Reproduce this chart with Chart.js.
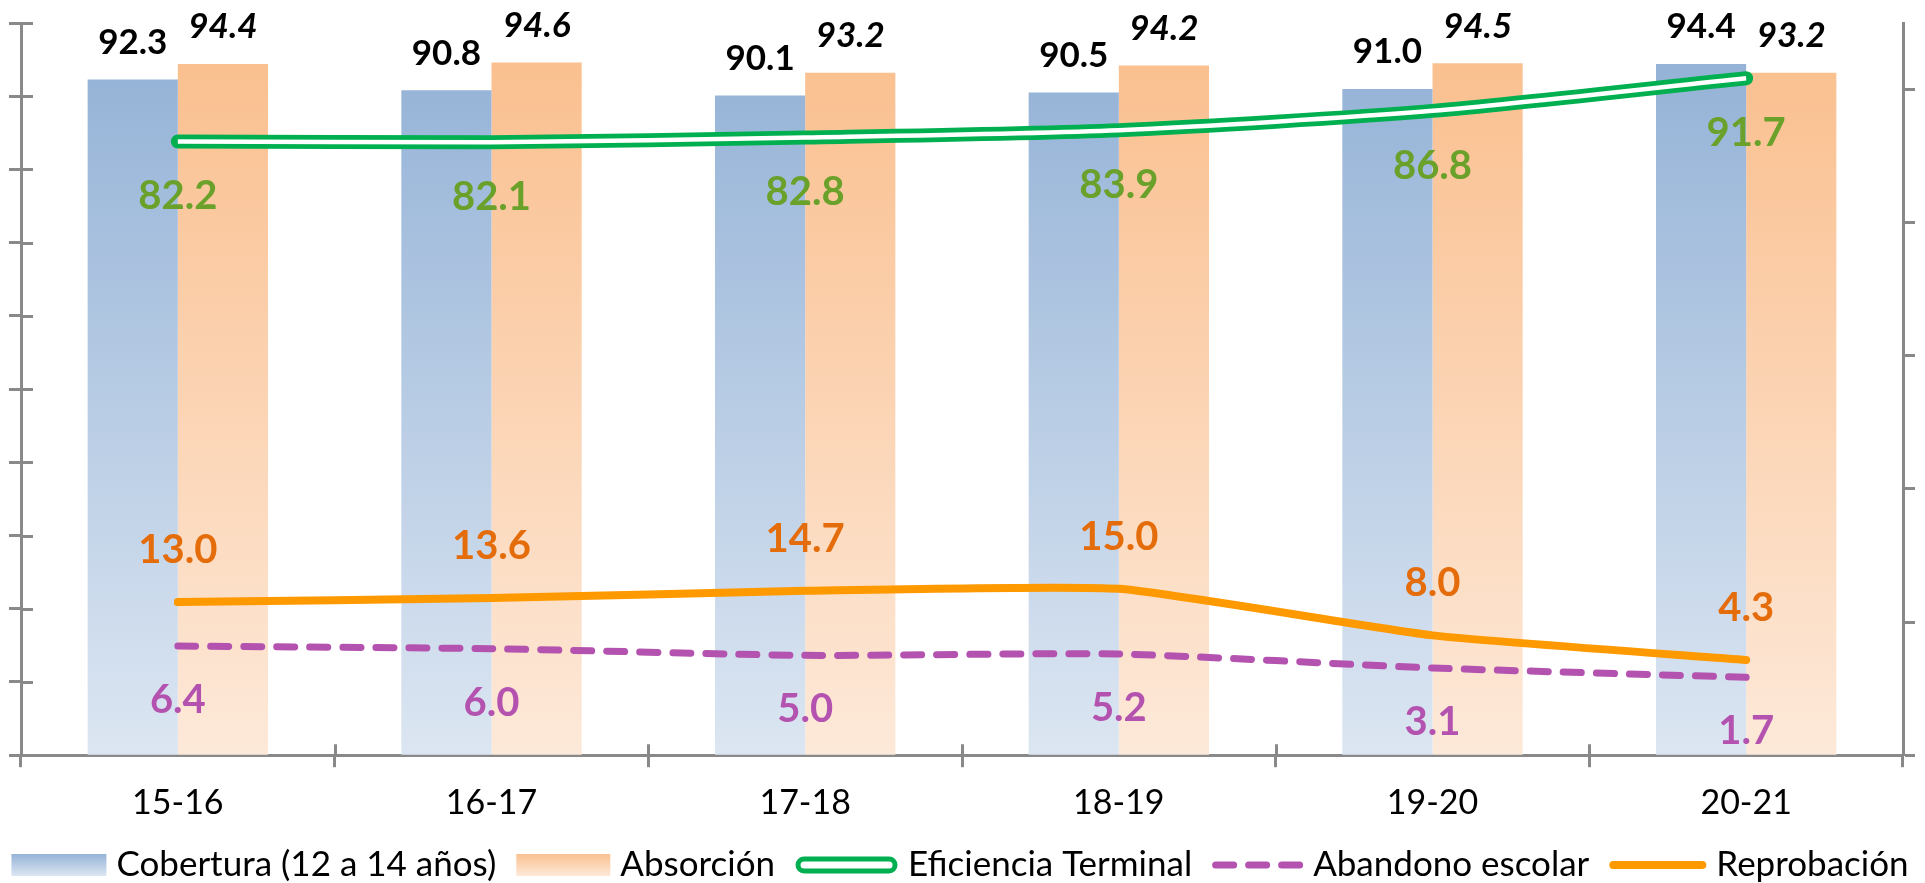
<!DOCTYPE html>
<html><head><meta charset="utf-8">
<script src="https://cdn.jsdelivr.net/npm/chart.js@4.4.1/dist/chart.umd.min.js"></script>
<style>
html,body{margin:0;padding:0;background:#fff;}
#wrap{width:1925px;height:883px;position:relative;}
canvas{display:block;}
</style>
</head><body>
<div id="wrap"><canvas id="c"></canvas></div>
<script>
// ---- data ----
const categories = ['15-16', '16-17', '17-18', '18-19', '19-20', '20-21'];
const seriesNames = ['Cobertura (12 a 14 años)', 'Absorción', 'Eficiencia Terminal', 'Abandono escolar', 'Reprobación'];
const cobertura   = [92.3, 90.8, 90.1, 90.5, 91.0, 94.4];
const absorcion   = [94.4, 94.6, 93.2, 94.2, 94.5, 93.2];
const eficiencia  = [82.2, 82.1, 82.8, 83.9, 86.8, 91.7];
const abandono    = [6.4, 6.0, 5.0, 5.2, 3.1, 1.7];
const reprobacion = [13.0, 13.6, 14.7, 15.0, 8.0, 4.3];
const leftTicks  = [0, 10, 20, 30, 40, 50, 60, 70, 80, 90, 100];
const rightTicks = [-10, 10, 30, 50, 70, 90];

// ---- styles ----
const AXIS = '#898989';
const FONT = 'Lato';
const BLUE_G = ['#95B3D7', '#DCE6F2'];
const ORANGE_G = ['#FAC090', '#FDE9D9'];
const GREEN = '#00B050';
const GREEN_LBL = '#6AA12A';
const PURPLE = '#B453AF';
const ORANGE_LINE = '#FF9900';
const ORANGE_LBL = '#E46C0A';

function barGrad(stops) {
  return (ctx) => {
    const ch = ctx.chart;
    const a = ch.chartArea;
    if (!a) return stops[0];
    const g = ch.ctx.createLinearGradient(0, a.top + 45, 0, a.bottom);
    g.addColorStop(0, stops[0]);
    g.addColorStop(1, stops[1]);
    return g;
  };
}

const valueLabels = {
  id: 'valueLabels',
  afterDatasetsDraw(chart) {
    const ctx = chart.ctx;
    chart.data.datasets.forEach((ds, i) => {
      const st = ds.lbl;
      if (!st) return;
      const meta = chart.getDatasetMeta(i);
      ctx.save();
      ctx.font = st.font;
      ctx.fillStyle = st.color;
      ctx.textAlign = 'center';
      ctx.textBaseline = 'middle';
      meta.data.forEach((el, j) => {
        const v = ds.data[j];
        ctx.fillText(v.toFixed(1), el.x, el.y + st.dy);
      });
      ctx.restore();
    });
  }
};

const innerTicks = {
  id: 'innerTicks',
  afterDraw(chart) {
    const ctx = chart.ctx;
    const ys = chart.scales.y, xs = chart.scales.x;
    ctx.save();
    ctx.strokeStyle = AXIS;
    ctx.lineWidth = 3;
    ctx.beginPath();
    ys.ticks.forEach(t => {
      const py = Math.round(ys.getPixelForValue(t.value)) + 0.5;
      ctx.moveTo(ys.right, py);
      ctx.lineTo(ys.right + 12, py);
    });
    const n = xs.ticks.length;
    for (let i = 0; i <= n; i++) {
      const px = Math.round(xs.left + i * xs.width / n) + 0.5;
      ctx.moveTo(px, xs.top);
      ctx.lineTo(px, xs.top - 11);
    }
    ctx.stroke();
    ctx.restore();
  }
};

const customLegend = {
  id: 'customLegend',
  afterDraw(chart) {
    const ctx = chart.ctx;
    const cy = 865;
    const items = [
      { kind: 'grad', stops: BLUE_G, w: 95 },
      { kind: 'grad', stops: ORANGE_G, w: 94 },
      { kind: 'double', w: 103 },
      { kind: 'dash', w: 91 },
      { kind: 'line', w: 97 }
    ];
    ctx.save();
    ctx.font = '35px ' + FONT;
    const gapBox = 10, gapItem = 20;
    let total = 0;
    items.forEach((it, i) => {
      it.tw = ctx.measureText(seriesNames[i]).width;
      total += it.w + gapBox + it.tw + (i ? gapItem : 0);
    });
    let x = 960 - total / 2;
    items.forEach((it, i) => {
      if (it.kind === 'grad') {
        const g = ctx.createLinearGradient(0, cy - 11, 0, cy + 11);
        g.addColorStop(0, it.stops[0]);
        g.addColorStop(1, it.stops[1]);
        ctx.fillStyle = g;
        ctx.fillRect(x, cy - 11, it.w, 22);
      } else if (it.kind === 'double') {
        ctx.beginPath();
        ctx.lineWidth = 5;
        ctx.strokeStyle = GREEN;
        ctx.fillStyle = '#fff';
        if (ctx.roundRect) ctx.roundRect(x + 3, cy - 6, it.w - 6, 12, 6); else ctx.rect(x + 3, cy - 6, it.w - 6, 12);
        ctx.fill();
        ctx.stroke();
      } else if (it.kind === 'dash') {
        ctx.beginPath();
        ctx.lineWidth = 7;
        ctx.lineCap = 'round';
        ctx.strokeStyle = PURPLE;
        ctx.setLineDash([18, 15]);
        ctx.moveTo(x + 3.5, cy);
        ctx.lineTo(x + it.w, cy);
        ctx.stroke();
        ctx.setLineDash([]);
      } else {
        ctx.beginPath();
        ctx.lineWidth = 8;
        ctx.lineCap = 'round';
        ctx.strokeStyle = ORANGE_LINE;
        ctx.moveTo(x + 4, cy);
        ctx.lineTo(x + it.w - 4, cy);
        ctx.stroke();
      }
      x += it.w + gapBox;
      ctx.fillStyle = '#000';
      ctx.textAlign = 'left';
      ctx.textBaseline = 'middle';
      ctx.fillText(seriesNames[i], x, cy);
      x += it.tw + gapItem;
    });
    ctx.restore();
  }
};

Chart.defaults.font.family = FONT;

new Chart(document.getElementById('c'), {
  type: 'bar',
  data: {
    labels: categories,
    datasets: [
      { label: seriesNames[0], data: cobertura, yAxisID: 'y', order: 10,
        backgroundColor: barGrad(BLUE_G), borderWidth: 0,
        categoryPercentage: 0.575, barPercentage: 1.0,
        lbl: { font: 'bold 35px ' + FONT, color: '#000', dy: -37 } },
      { label: seriesNames[1], data: absorcion, yAxisID: 'y', order: 10,
        backgroundColor: barGrad(ORANGE_G), borderWidth: 0,
        categoryPercentage: 0.575, barPercentage: 1.0,
        lbl: { font: 'italic bold 35px ' + FONT, color: '#000', dy: -37 } },
      { type: 'line', label: seriesNames[2], data: eficiencia, yAxisID: 'y1', order: 5,
        borderColor: GREEN, borderWidth: 14, pointRadius: 0, tension: 0.25,
        borderCapStyle: 'round', borderJoinStyle: 'round', fill: false, clip: false,
        lbl: { font: 'bold 40px ' + FONT, color: GREEN_LBL, dy: 55 } },
      { type: 'line', label: '_inner', data: eficiencia, yAxisID: 'y1', order: 4,
        borderColor: '#FFFFFF', borderWidth: 4.5, pointRadius: 0, tension: 0.25,
        borderCapStyle: 'butt', borderJoinStyle: 'round', fill: false, clip: false },
      { type: 'line', label: seriesNames[3], data: abandono, yAxisID: 'y1', order: 3,
        borderColor: PURPLE, borderWidth: 7, pointRadius: 0, tension: 0.2,
        borderDash: [18, 15], borderCapStyle: 'round', fill: false, clip: false,
        lbl: { font: 'bold 40px ' + FONT, color: PURPLE, dy: 54 } },
      { type: 'line', label: seriesNames[4], data: reprobacion, yAxisID: 'y1', order: 3,
        borderColor: ORANGE_LINE, borderWidth: 8, pointRadius: 0, tension: 0.15,
        borderCapStyle: 'round', borderJoinStyle: 'round', fill: false, clip: false,
        lbl: { font: 'bold 40px ' + FONT, color: ORANGE_LBL, dy: -52 } }
    ]
  },
  options: {
    responsive: true,
    maintainAspectRatio: false,
    animation: false,
    devicePixelRatio: 1,
    layout: { padding: { top: 23, left: 9, right: 10, bottom: 45 } },
    plugins: { legend: { display: false }, tooltip: { enabled: false } },
    scales: {
      x: {
        offset: true,
        grid: { offset: true, drawOnChartArea: false, drawTicks: true, tickLength: 12, tickWidth: 3, tickColor: AXIS },
        border: { color: AXIS, width: 3 },
        ticks: { color: '#000', font: { size: 34 }, padding: 15, maxRotation: 0, autoSkip: false }
      },
      y: {
        position: 'left', min: 0, max: 100,
        afterBuildTicks: (s) => { s.ticks = leftTicks.map(v => ({ value: v })); },
        grid: { drawOnChartArea: false, drawTicks: true, tickLength: 12, tickWidth: 3, tickColor: AXIS },
        border: { color: AXIS, width: 3 },
        ticks: { display: false }
      },
      y1: {
        position: 'right', min: -10, max: 100,
        afterBuildTicks: (s) => { s.ticks = rightTicks.map(v => ({ value: v })); },
        grid: { drawOnChartArea: false, drawTicks: true, tickLength: 12, tickWidth: 3, tickColor: AXIS },
        border: { color: AXIS, width: 3 },
        ticks: { display: false }
      }
    }
  },
  plugins: [valueLabels, innerTicks, customLegend]
});
</script>
</body></html>
